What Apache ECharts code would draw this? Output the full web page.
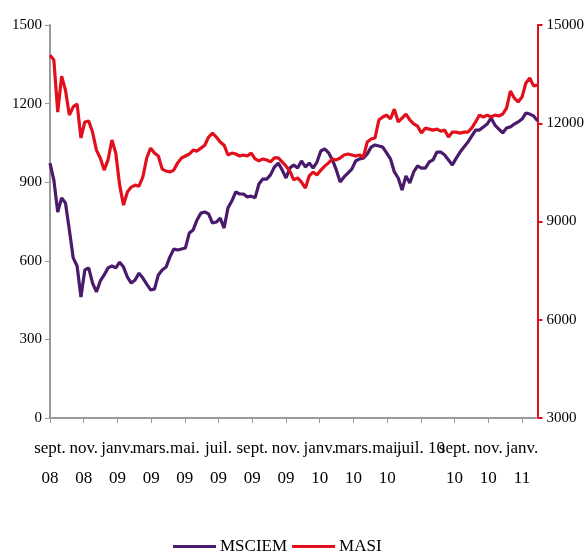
<!DOCTYPE html>
<html>
<head>
<meta charset="utf-8">
<script src="https://cdn.jsdelivr.net/npm/echarts@6/dist/echarts.min.js"></script>
<style>
  html, body { margin: 0; padding: 0; background: #fff; }
  #chart { width: 587px; height: 551px; }
</style>
</head>
<body>
<div id="chart"></div>
<script>
// weekly samples, sept. 2008 -> janv. 2011
const msciem = [
  973, 908, 786, 840, 821, 718, 611, 580, 462, 565, 573, 515, 481, 523, 546, 573,
  580, 573, 595, 576, 538, 515, 527, 553, 534, 511, 489, 492, 546, 565, 576, 615,
  645, 641, 645, 649, 706, 718, 756, 782, 786, 779, 744, 748, 763, 725, 802, 828,
  863, 855, 855, 844, 847, 840, 893, 912, 912, 928, 958, 973, 947, 916, 954, 966,
  954, 981, 958, 973, 954, 977, 1019, 1027, 1012, 985, 947, 901, 920, 935, 950, 981,
  989, 992, 1008, 1034, 1042, 1038, 1034, 1012, 989, 939, 916, 870, 924, 897, 939, 962,
  954, 954, 977, 985, 1015, 1015, 1004, 985, 966, 992, 1015, 1034, 1053, 1076, 1099, 1099,
  1111, 1122, 1145, 1118, 1103, 1088, 1107, 1111, 1122, 1130, 1141, 1164, 1160, 1153, 1134
];
const masi = [
  14080, 13930, 12340, 13440, 13010, 12250, 12500, 12590, 11550, 12040, 12070, 11730, 11180, 10940, 10570, 10880,
  11490, 11090, 10110, 9500, 9900, 10050, 10110, 10080, 10360, 10940, 11240, 11090, 11000, 10600, 10540, 10510,
  10570, 10790, 10940, 11000, 11060, 11180, 11150, 11240, 11330, 11580, 11700, 11580, 11430, 11330, 11030, 11090,
  11060, 11000, 11030, 11000, 11090, 10910, 10850, 10910, 10880, 10820, 10940, 10940, 10820, 10690, 10540, 10270,
  10330, 10200, 10020, 10390, 10510, 10420, 10570, 10690, 10790, 10910, 10880, 10940, 11030, 11060, 11030, 11000,
  11030, 10970, 11430, 11520, 11550, 12100, 12190, 12250, 12130, 12430, 12040, 12160, 12280, 12100, 11980, 11910,
  11700, 11850, 11820, 11790, 11820, 11760, 11790, 11580, 11730, 11730, 11700, 11730, 11730, 11850, 12040, 12250,
  12190, 12250, 12190, 12250, 12220, 12280, 12460, 12980, 12770, 12650, 12800, 13230, 13380, 13140, 13170
];
const monthLabels = [
  'sept.\n08', 'nov.\n08', 'janv.\n09', 'mars.\n09', 'mai.\n09', 'juil.\n09', 'sept.\n09', 'nov.\n09',
  'janv.\n10', 'mars.\n10', 'mai.\n10', 'juil. 10', 'sept.\n10', 'nov.\n10', 'janv.\n11'
];
const leftTicks = { min: 0, max: 1500, interval: 300 };
const rightTicks = { min: 3000, max: 15000, interval: 3000 };

const DAYS_PER_TICK = 61; // two months
const purple = '#4a1a6c';
const red = '#e2101c';
const font = 'Liberation Serif';

const chart = echarts.init(document.getElementById('chart'), null, { renderer: 'canvas' });

chart.setOption({
  backgroundColor: '#fff',
  animation: false,
  grid: { left: 50, right: 47, top: 25, bottom: 133 },
  legend: {
    left: 168,
    top: 533,
    icon: 'rect',
    itemWidth: 43,
    itemHeight: 3,
    itemGap: 5,
    textStyle: { fontFamily: font, fontSize: 17, color: '#000', padding: [0, 0, 0, -1] },
    data: ['MSCIEM', 'MASI']
  },
  xAxis: {
    type: 'value',
    min: 0,
    max: 882,
    interval: DAYS_PER_TICK,
    splitLine: { show: false },
    axisLine: { lineStyle: { color: '#9a9a9a', width: 2 } },
    axisTick: { show: true, length: 5, lineStyle: { color: '#9a9a9a', width: 1 } },
    axisLabel: {
      fontFamily: font,
      fontSize: 17,
      color: '#000',
      margin: 16,
      lineHeight: 30,
      showMaxLabel: false,
      formatter: (v) => (v % DAYS_PER_TICK === 0 ? monthLabels[v / DAYS_PER_TICK] || '' : '')
    }
  },
  yAxis: [
    {
      type: 'value',
      position: 'left',
      ...leftTicks,
      splitLine: { show: false },
      axisLine: { show: true, lineStyle: { color: '#9a9a9a', width: 2 } },
      axisTick: { show: true, length: 5, lineStyle: { color: '#9a9a9a', width: 1 } },
      axisLabel: { fontFamily: font, fontSize: 15, color: '#000', margin: 8, formatter: (v) => String(v) }
    },
    {
      type: 'value',
      position: 'right',
      ...rightTicks,
      splitLine: { show: false },
      axisLine: { show: true, lineStyle: { color: red, width: 2 } },
      axisTick: { show: true, length: 5, lineStyle: { color: red, width: 2 } },
      axisLabel: { fontFamily: font, fontSize: 15, color: '#000', margin: 9, formatter: (v) => String(v) }
    }
  ],
  series: [
    {
      name: 'MSCIEM',
      type: 'line',
      yAxisIndex: 0,
      showSymbol: false,
      color: purple,
      lineStyle: { color: purple, width: 3.2 },
      data: msciem.map((v, i) => [i * 7, v])
    },
    {
      name: 'MASI',
      type: 'line',
      yAxisIndex: 1,
      showSymbol: false,
      color: red,
      lineStyle: { color: red, width: 3.2 },
      data: masi.map((v, i) => [i * 7, v])
    }
  ]
});
</script>
</body>
</html>
